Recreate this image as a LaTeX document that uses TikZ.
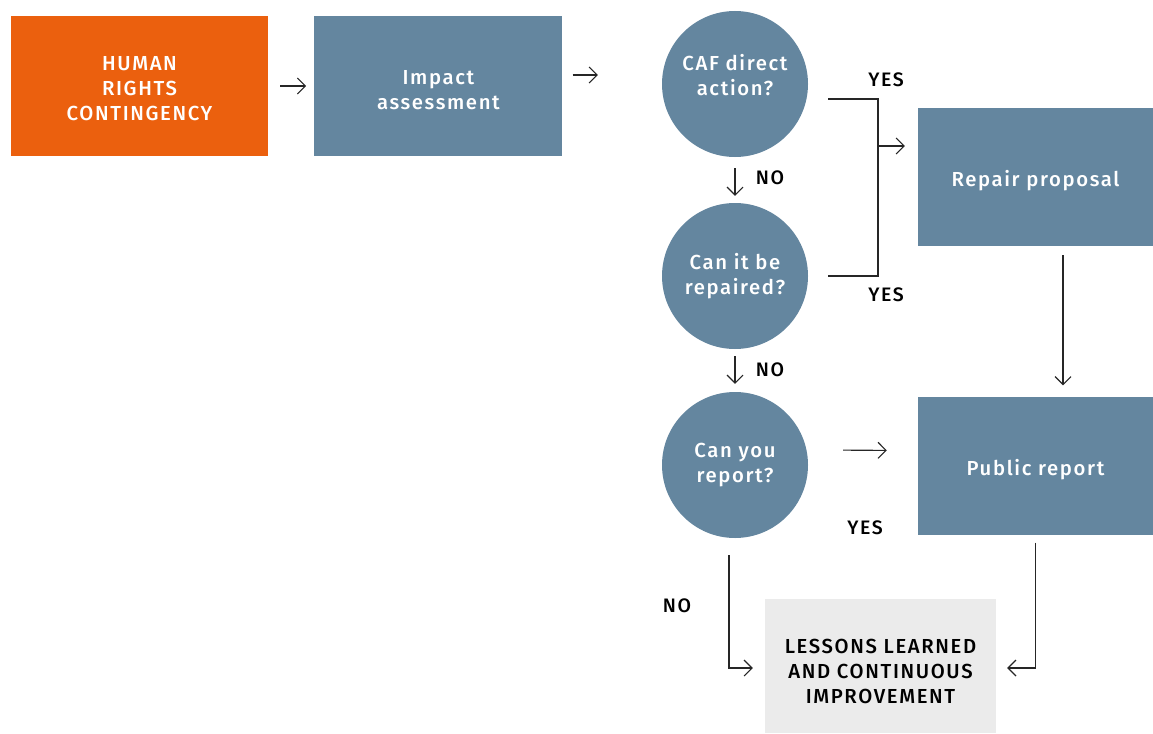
\documentclass[tikz,border=0pt]{standalone}
\usepackage{fontspec}
\setmainfont{Fira Sans}[BoldFont={Fira Sans Medium}, LetterSpace=8]
\usetikzlibrary{arrows.meta,positioning}
\definecolor{cafblue}{HTML}{64869F}
\definecolor{caforange}{HTML}{EB600E}
\definecolor{lessongray}{HTML}{EBEBEB}
\tikzstyle{process} = [rectangle, fill=cafblue, text=white, minimum width=248pt, minimum height=139pt, inner sep=0pt, align=center, font=\fontsize{20.3}{25}\selectfont\bfseries]
\tikzstyle{start} = [process, fill=caforange, minimum width=257pt, minimum height=140pt]
\tikzstyle{question} = [circle, fill=cafblue, text=white, minimum size=146pt, inner sep=0pt, align=center, font=\fontsize{20.3}{25}\selectfont\bfseries]
\tikzstyle{lessonbox} = [process, fill=lessongray, text=black, minimum width=231pt, minimum height=134pt]
\tikzstyle{answer} = [inner sep=0pt, font=\fontsize{19.5}{22}\selectfont\bfseries]
\tikzstyle{arrow} = [-{Straight Barb[length=8pt,width=16pt]}, line width=1.1pt, draw=black!85]
\tikzstyle{line} = [line width=1.1pt, draw=black!85]

\begin{document}
\begin{tikzpicture}[x=1pt, y=-1pt]
\useasboundingbox (0,0) rectangle (1153,733);
\node[start, text height=70pt] (contingency) at (139.5,86) {HUMAN\\RIGHTS\\CONTINGENCY};
\node[process, text height=48pt, right=46pt of contingency] (impact) {Impact\\assessment};
\node[question, text depth=18pt] (direct) at (735,84) {CAF direct\\action?};
\node[question] (repairable) at (735,276) {Can it be\\repaired?};
\node[question] (canreport) at (735,465) {Can you\\report?};
\node[process, text height=24pt, minimum width=235pt, minimum height=138pt] (repair) at (1035.5,177) {Repair proposal};
\node[process, text height=24pt, minimum width=235pt, minimum height=138pt] (public) at (1035.5,465.5) {Public report};
\node[lessonbox, text height=76pt] (lessons) at (880.5,666) {LESSONS LEARNED\\AND CONTINUOUS\\IMPROVEMENT};
\coordinate (join) at (878,146);

\node[answer] (yesdirect) at (886,80) {YES};
\node[answer] (yesrepair) at (886,295) {YES};
\node[answer] (nodirect) at (770,178) {NO};
\node[answer] (norepair) at (770,370) {NO};
\node[answer] (yesreport) at (865,528) {YES};
\node[answer] (noreport) at (677,606) {NO};

\draw[arrow, shorten <=12pt, shorten >=8pt] (contingency) -- (impact);
\draw[arrow, shorten <=10pt, shorten >=64pt] (impact.east |- 0,75) -- (direct.west |- 0,75);
\draw[arrow, shorten <=11pt, shorten >=7pt] (direct) -- (repairable);
\draw[arrow, shorten <=7pt, shorten >=8pt] (repairable) -- (canreport);
\draw[line] ([xshift=20pt,yshift=-15pt]direct.east) -| (join) |- ([xshift=20pt]repairable.east);
\draw[arrow, shorten >=13pt] (join) -- (join -| repair.west);
\draw[arrow, shorten <=9pt, shorten >=11pt] ([xshift=27.5pt]repair.south) -- ([xshift=27.5pt]public.north);
\draw[arrow, shorten <=35pt, shorten >=31pt] ([yshift=15pt]canreport.east) -- ([yshift=15pt]public.west);
\draw[arrow] ([xshift=-6pt,yshift=-17pt]canreport.south) |- ([xshift=-12pt,yshift=-2pt]lessons.west);
\draw[arrow] ([yshift=-8pt]public.south) |- ([xshift=11pt,yshift=-2pt]lessons.east);
\end{tikzpicture}
\end{document}
